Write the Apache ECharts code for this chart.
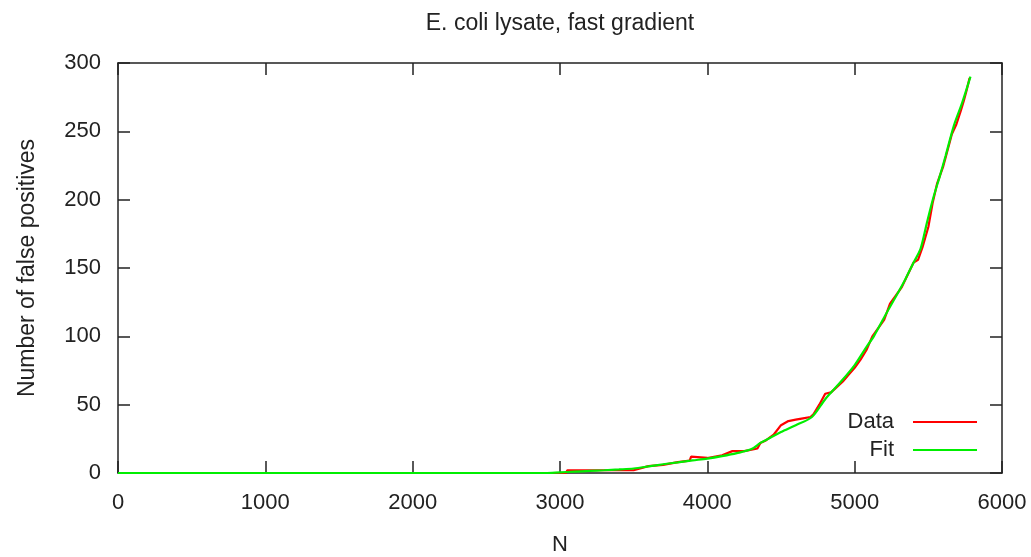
<!DOCTYPE html>
<html>
<head>
<meta charset="utf-8">
<script src="https://cdn.jsdelivr.net/npm/echarts@6/dist/echarts.min.js"></script>
<style>
  html, body { margin: 0; padding: 0; background: #fff; }
  #chart { width: 1031px; height: 557px; }
</style>
</head>
<body>
<div id="chart"></div>
<script>
// data
var dataN = [0, 3040, 3050, 3500, 3510, 3600, 3700, 3800, 3880, 3890, 4000, 4100, 4170, 4250, 4300, 4340, 4360,
    4400, 4450, 4500, 4550, 4600, 4650, 4700, 4720, 4760, 4800, 4840, 4880, 4920, 4960, 5000, 5040, 5080,
    5120, 5160, 5200, 5240, 5280, 5320, 5360, 5400, 5430, 5460, 5500, 5530, 5560, 5600, 5630, 5660, 5690,
    5720, 5740, 5760, 5780];
var dataCount = [0, 0, 2, 2, 3, 5, 6, 8, 9, 12, 11, 13, 16, 16, 17, 18, 22,
    24, 28, 35, 38, 39, 40, 41, 43, 50, 58, 59, 63, 67, 72, 77, 83, 90,
    100, 106, 112, 124, 130, 136, 145, 154, 156, 165, 180, 198, 212, 224, 236, 248, 255,
    265, 272, 280, 289];

var fitN = [0, 2900, 3000, 3100, 3200, 3300, 3400, 3500, 3600, 3700, 3800, 3900, 4000, 4100, 4200, 4300, 4360,
    4430, 4500, 4600, 4710, 4800, 4900, 5000, 5085, 5130, 5221, 5300, 5345, 5400, 5447, 5490, 5533,
    5580, 5617, 5673, 5730, 5786];
var fitCount = [0, 0, 0.5, 1, 1.5, 2, 2.6, 3.3, 4.8, 6.4, 7.8, 9.2, 10.5, 12.3, 14.5, 17.5, 22,
    26, 30, 35, 41, 54, 66, 79, 93, 100, 118, 133, 142, 154, 164, 183, 201,
    218, 232, 254, 271, 290];

var xTicks = [0, 1000, 2000, 3000, 4000, 5000, 6000];
var yTicks = [0, 50, 100, 150, 200, 250, 300];

function pairs(xs, ys) {
    return xs.map(function (x, i) { return [x, ys[i]]; });
}

var chart = echarts.init(document.getElementById('chart'));
var font = 'Liberation Sans';
var frame = {show: true, onZero: false, lineStyle: {color: '#222', width: 1.5}};
var tick = {show: true, inside: true, length: 12, lineStyle: {color: '#222', width: 1.5}};

var option = {
    animation: false,
    backgroundColor: '#fff',
    textStyle: {fontFamily: font},
    title: {
        text: 'E. coli lysate, fast gradient',
        left: 555,
        textAlign: 'center',
        top: 7,
        textStyle: {fontFamily: font, fontSize: 23, fontWeight: 'normal', color: '#222'}
    },
    legend: {
        orient: 'vertical',
        right: 49,
        top: 406,
        align: 'right',
        itemWidth: 64,
        itemHeight: 14,
        itemGap: 6,
        icon: 'path://M0,6 L64,6 L64,8 L0,8 Z',
        textStyle: {fontFamily: font, fontSize: 22, color: '#222', padding: [0, 14, 0, 0]},
        data: ['Data', 'Fit']
    },
    grid: {left: 118, right: 29, top: 63, bottom: 84, containLabel: false, outerBoundsMode: 'none'},
    xAxis: [{
        type: 'value',
        min: 0, max: 6000, interval: 1000,
        name: 'N',
        nameLocation: 'middle',
        nameGap: 61,
        nameMoveOverlap: false,
        nameTextStyle: {fontFamily: font, fontSize: 22, color: '#222'},
        axisLine: frame,
        axisTick: tick,
        splitLine: {show: false},
        axisLabel: {fontFamily: font, fontSize: 22, color: '#222', margin: 19,
            formatter: function (v) { return xTicks.indexOf(v) >= 0 ? String(v) : ''; }}
    }, {
        type: 'value', position: 'top',
        min: 0, max: 6000, interval: 1000,
        axisLine: frame, axisTick: tick,
        axisLabel: {show: false}, splitLine: {show: false}
    }],
    yAxis: [{
        type: 'value',
        min: 0, max: 300, interval: 50,
        name: 'Number of false positives',
        nameLocation: 'middle',
        nameGap: 79,
        nameMoveOverlap: false,
        nameTextStyle: {fontFamily: font, fontSize: 23, color: '#222'},
        axisLine: frame,
        axisTick: tick,
        splitLine: {show: false},
        axisLabel: {fontFamily: font, fontSize: 22, color: '#222', margin: 17,
            formatter: function (v) { return yTicks.indexOf(v) >= 0 ? String(v) : ''; }}
    }, {
        type: 'value', position: 'right',
        min: 0, max: 300, interval: 50,
        axisLine: frame, axisTick: tick,
        axisLabel: {show: false}, splitLine: {show: false}
    }],
    series: [{
        name: 'Data',
        type: 'line',
        symbol: 'none',
        color: '#ff0000',
        lineStyle: {color: '#ff0000', width: 2.2},
        data: pairs(dataN, dataCount)
    }, {
        name: 'Fit',
        type: 'line',
        symbol: 'none',
        smooth: 0.3,
        color: '#00ee00',
        lineStyle: {color: '#00ee00', width: 2.2},
        data: pairs(fitN, fitCount)
    }]
};

chart.setOption(option);
</script>
</body>
</html>
